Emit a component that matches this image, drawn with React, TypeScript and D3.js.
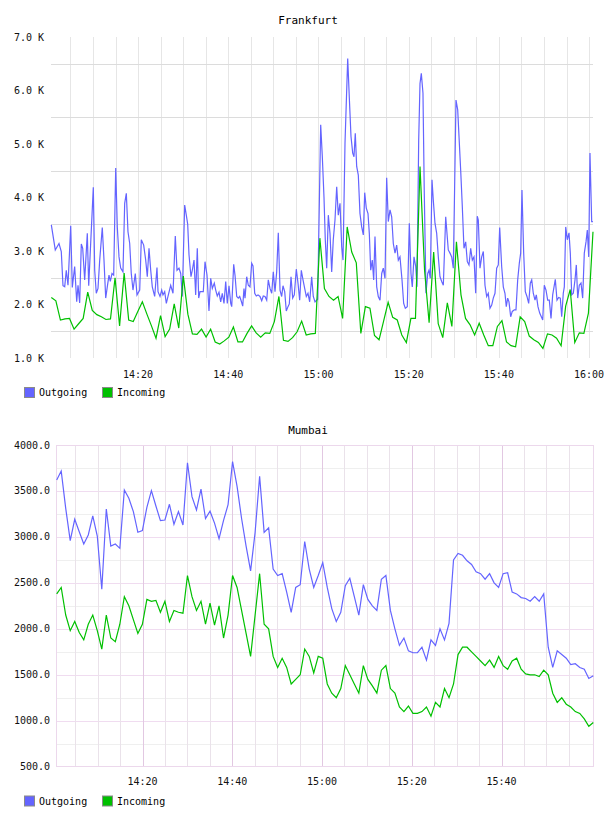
import React from "react";
import * as d3 from "d3";

// ---------- Frankfurt data ----------
// Outgoing: sample minute (after 14:00) and value in K
const fraOutMinutes = [
  0.76,1.64,2.46,2.97,3.35,3.73,4.08,4.46,5.06,5.41,5.94,6.39,6.68,7.05,7.41,7.72,8.16,8.74,9.05,10.07,
  10.38,10.73,11.11,11.49,12.06,12.44,12.82,13.17,13.55,13.84,14.22,14.59,15.04,15.39,15.77,16.14,16.65,17.03,17.39,17.76,
  18.14,18.49,18.87,19.38,19.76,20.36,20.71,21.24,21.69,22.04,22.42,22.80,23.15,23.68,24.19,24.42,24.86,25.24,25.52,25.90,
  26.26,26.63,27.23,27.74,28.25,28.63,29.07,29.45,29.80,30.33,30.69,31.00,31.29,31.73,32.02,32.40,32.77,33.13,33.44,33.73,
  34.46,34.84,35.28,35.72,36.10,36.46,36.90,37.21,37.56,37.94,38.32,38.67,39.05,39.43,39.78,40.16,40.54,40.76,41.20,41.49,
  41.87,42.22,42.53,42.82,43.20,43.48,43.71,44.08,44.44,44.81,45.19,45.48,45.86,46.21,46.59,47.03,47.41,47.76,48.14,48.52,
  48.87,49.25,49.63,49.98,50.36,50.73,51.09,51.47,51.84,52.13,52.51,52.86,53.24,53.53,53.91,54.28,54.64,55.08,55.46,55.83,
  56.19,56.57,56.94,57.30,57.67,58.05,58.49,58.85,59.23,59.82,60.49,60.85,61.22,61.51,61.82,62.18,62.55,62.93,63.28,63.66,
  64.04,64.39,64.77,65.15,65.44,65.88,66.48,66.83,67.21,67.59,67.87,68.16,68.47,68.83,69.20,69.58,69.94,70.25,70.60,70.98,
  71.27,71.58,71.93,72.24,72.53,72.91,73.26,73.64,74.02,74.37,74.75,75.12,75.48,75.86,76.23,76.59,76.97,77.34,77.70,78.07,
  78.52,78.89,79.25,79.69,80.14,80.51,80.80,81.18,81.56,81.84,82.22,82.51,82.80,83.17,83.46,83.84,84.22,84.50,84.79,85.17,
  85.46,85.83,86.21,86.57,86.94,87.32,87.68,88.21,88.78,89.16,89.54,89.89,90.11,90.49,90.87,91.16,91.53,91.89,92.26,92.64,
  93.00,93.37,93.75,94.11,94.48,94.86,95.21,95.44,95.81,96.19,96.55,96.92,97.30,97.65,98.03,98.41,98.76,99.14,99.51,99.87,
  100.18,100.62,100.98,101.35,101.64,101.95,102.24,102.62,102.97,103.42,103.79,104.17,104.53,104.83,105.12,105.50,105.86,106.23,106.61,106.97,
  107.28,107.63,108.01,108.30,108.67,109.05,109.41,109.72,110.07,110.45,110.82,111.18,111.56,111.93,112.51,112.89,113.26,113.62,113.93,114.28,
  114.51,114.82,115.17,115.55,115.84,116.15,116.50,116.88,117.17,117.48,117.83,118.21,118.58,118.94,119.32,119.61,119.92,120.20,120.58,120.85
];
const fraOutValues = [
  3.49,3.02,3.14,2.99,2.35,2.33,2.64,2.36,3.47,2.32,2.71,2.05,2.36,2.03,3.13,3.05,2.46,3.33,2.35,4.19,
  2.64,2.21,2.30,2.83,3.44,2.83,2.12,2.33,2.55,2.43,2.58,2.55,4.55,3.45,2.89,2.68,2.61,3.89,4.08,3.36,
  3.14,2.58,2.27,2.58,2.18,2.27,3.21,3.11,2.83,2.52,3.05,2.64,2.33,2.15,2.69,2.24,2.15,2.27,2.18,2.24,
  2.02,2.15,2.36,2.21,3.28,2.64,2.68,2.58,2.15,3.86,3.67,3.50,2.93,2.52,2.64,2.83,2.18,3.05,2.12,2.24,
  2.24,2.80,2.55,1.88,2.49,2.30,2.40,2.27,2.16,2.23,2.05,2.21,2.02,2.43,2.02,2.35,2.02,1.96,2.75,2.55,
  2.15,2.12,2.15,2.08,1.97,2.30,2.12,2.52,2.36,2.33,2.77,2.72,2.21,2.16,2.18,2.15,2.07,2.16,2.15,2.08,
  2.46,2.30,2.21,2.61,2.24,2.61,3.34,2.27,2.15,2.35,2.24,1.88,1.96,2.01,2.52,2.12,2.18,2.66,2.40,2.08,
  2.64,2.46,2.30,2.15,2.21,2.05,2.52,2.15,2.05,2.10,5.36,4.76,4.01,3.21,2.68,3.67,3.33,2.61,3.21,3.58,
  4.20,3.67,3.89,3.08,2.83,5.01,6.60,5.88,5.14,4.83,4.76,5.20,4.58,4.42,3.70,3.45,3.30,4.09,3.80,3.70,
  3.33,2.64,2.83,2.46,3.27,2.33,2.15,2.08,2.58,2.68,2.49,4.37,3.55,3.77,3.64,3.14,2.96,3.11,2.83,2.89,
  2.46,2.02,1.93,1.96,3.52,2.58,2.33,2.89,2.71,2.33,5.07,6.13,6.32,5.95,4.08,2.21,2.58,2.64,2.49,4.33,
  3.95,3.52,3.33,2.89,2.52,2.43,2.36,3.64,3.02,2.96,2.89,2.68,3.77,5.82,5.64,5.14,4.51,3.83,3.05,3.17,
  2.80,2.74,3.05,2.83,2.89,2.21,3.65,3.58,2.68,2.89,2.99,2.36,2.15,2.21,1.93,1.99,2.12,2.21,2.68,2.74,
  3.44,2.71,2.33,2.21,1.96,2.12,2.05,1.77,1.87,1.90,1.90,2.46,2.77,2.96,4.14,2.96,2.24,2.15,2.02,2.40,
  2.46,2.21,2.08,2.18,1.96,1.84,1.77,1.71,2.36,2.27,2.08,2.08,1.74,2.18,2.47,2.08,2.13,2.12,1.77,2.21,
  2.33,3.45,3.21,3.34,2.96,2.18,2.21,2.46,2.74,2.12,2.36,2.40,2.12,2.96,3.17,3.39,2.89,4.83,3.55,3.55
];
// Incoming: one sample per step, value in K
const fraInStartMinute = 0.76;
const fraInStepMinutes = 1.0093;
const fraInValues = [
  2.13,2.07,1.71,1.73,1.74,1.54,1.64,1.74,2.23,1.89,
  1.81,1.77,1.72,1.73,2.50,1.60,2.59,1.71,1.68,1.87,
  2.05,1.82,1.60,1.37,1.79,1.40,1.54,2.01,1.56,2.53,
  1.82,1.45,1.44,1.54,1.39,1.54,1.30,1.26,1.32,1.39,
  1.58,1.30,1.30,1.46,1.60,1.47,1.39,1.47,1.46,1.68,
  2.15,1.33,1.31,1.38,1.49,1.69,1.43,1.45,1.46,3.24,
  2.30,2.15,2.08,2.15,1.74,3.45,2.98,2.78,1.46,1.96,
  1.93,1.42,1.34,1.69,2.04,1.76,1.71,1.43,1.29,1.74,
  1.74,4.58,2.64,1.66,2.98,1.64,1.38,2.03,1.59,3.17,
  2.18,1.74,1.62,1.43,1.65,1.43,1.23,1.23,1.59,1.70,
  1.30,1.23,1.21,1.77,1.68,1.41,1.34,1.29,1.18,1.45,
  1.43,1.37,1.23,1.97,2.28,1.29,1.47,1.46,1.84,3.36
];
const fraYTicks = [1000, 2000, 3000, 4000, 5000, 6000, 7000];

// ---------- Mumbai data ----------
const mumStartMinute = 0.87;
const mumStepMinutes = 1.0049;
const mumOutValues = [
  3619,3717,3311,2959,3192,3057,2923,3021,3228,3010,
  2430,3304,2901,2923,2876,3510,3420,3275,3050,3068,
  3322,3503,3336,3177,3184,3355,3137,3275,3130,3807,
  3438,3293,3520,3200,3280,3150,2980,3180,3350,3820,
  3550,3200,2900,2630,3050,3660,3050,3100,2650,2580,
  2600,2400,2180,2450,2480,2950,2650,2450,2580,2720,
  2450,2220,2080,2180,2470,2550,2350,2150,2480,2320,
  2250,2200,2540,2580,2200,2000,1820,1900,1760,1740,
  1740,1800,1660,1880,1820,2000,1880,2060,2750,2820,
  2800,2740,2700,2620,2600,2540,2600,2500,2450,2600,
  2610,2400,2380,2340,2330,2300,2350,2300,2380,1800,
  1580,1760,1720,1680,1610,1620,1580,1560,1460,1490
];
const mumInValues = [
  2380,2450,2150,1980,2080,1960,1880,2050,2150,1980,
  1780,2150,1900,1860,2050,2350,2250,2100,1950,2050,
  2320,2300,2310,2180,2300,2080,2200,2180,2170,2580,
  2350,2200,2300,2050,2280,2040,2250,1900,2150,2580,
  2450,2200,1950,1700,2150,2600,2050,2000,1700,1580,
  1680,1580,1400,1450,1500,1780,1700,1520,1700,1680,
  1400,1300,1250,1350,1600,1500,1400,1300,1600,1450,
  1380,1300,1550,1600,1350,1300,1150,1100,1160,1080,
  1080,1100,1150,1050,1200,1150,1350,1250,1400,1720,
  1800,1800,1750,1700,1650,1600,1660,1580,1700,1600,
  1560,1650,1680,1560,1510,1500,1500,1480,1550,1500,
  1300,1200,1250,1180,1150,1100,1080,1020,940,980
];
const mumYTicks = [500, 1000, 1500, 2000, 2500, 3000, 3500, 4000];

const seriesNames = ["Outgoing", "Incoming"];
const seriesColors = ["#6464ff", "#00c000"];

const BASE = new Date(2024, 0, 1, 14, 0, 0).getTime();
const at = (m: number) => new Date(BASE + m * 60000);
const FONT = "'DejaVu Sans Mono', monospace";
const fmtTime = d3.timeFormat("%H:%M");

type Pt = { t: Date; v: number };

function Legend({ y }: { y: number }) {
  const xs = [24, 102];
  return (
    <g>
      {seriesNames.map((n, i) => (
        <g key={n}>
          <rect x={xs[i] + 0.5} y={y + 0.5} width={10} height={10} fill={seriesColors[i]} stroke="#8a8a8a" />
          <text x={xs[i] + 15} y={y + 9} fontFamily={FONT} fontSize={10} fill="#000">{n}</text>
        </g>
      ))}
    </g>
  );
}

function Frankfurt() {
  const x = d3.scaleTime().domain([at(0.69), at(120.87)]).range([51, 593]);
  const y = d3.scaleLinear().domain([1000, 7000]).range([358, 37]);
  const out: Pt[] = fraOutMinutes.map((m, i) => ({ t: at(m), v: fraOutValues[i] * 1000 }));
  const inc: Pt[] = fraInValues.map((v, i) => ({ t: at(fraInStartMinute + i * fraInStepMinutes), v: v * 1000 }));
  const line = d3.line<Pt>().x((d) => x(d.t)).y((d) => y(d.v));
  const vgrid = d3.timeMinute.every(5)!.range(at(0.69), at(120.87));
  const labels = d3.timeMinute.every(20)!.range(at(10), at(121));
  const hgrid = d3.range(1500, 7000, 1000);
  return (
    <g>
      <text x={308} y={24} textAnchor="middle" fontFamily={FONT} fontSize={11}>Frankfurt</text>
      {vgrid.map((d, i) => (
        <line key={"v" + i} x1={Math.round(x(d)) + 0.5} x2={Math.round(x(d)) + 0.5} y1={37} y2={358} stroke="#e6e6e6" />
      ))}
      {hgrid.map((v) => (
        <line key={"h" + v} x1={51} x2={593} y1={Math.round(y(v)) + 0.5} y2={Math.round(y(v)) + 0.5} stroke="#dcdcdc" />
      ))}
      {fraYTicks.map((v) => (
        <text key={"yl" + v} x={44} y={y(v) + 3.5} textAnchor="end" fontFamily={FONT} fontSize={10} fill="#111">
          {(v / 1000).toFixed(1) + " K"}
        </text>
      ))}
      {labels.map((d, i) => (
        <text key={"xl" + i} x={x(d)} y={378} textAnchor="middle" fontFamily={FONT} fontSize={10} fill="#111">
          {fmtTime(d)}
        </text>
      ))}
      <path d={line(out) || ""} fill="none" stroke={seriesColors[0]} strokeWidth={1.2} />
      <path d={line(inc) || ""} fill="none" stroke={seriesColors[1]} strokeWidth={1.2} />
      <Legend y={387} />
    </g>
  );
}

function Mumbai() {
  const x = d3.scaleTime().domain([at(0.87), at(120.45)]).range([56.7, 593.3]);
  const y = d3.scaleLinear().domain([500, 4000]).range([766.7, 445]);
  const out: Pt[] = mumOutValues.map((v, i) => ({ t: at(mumStartMinute + i * mumStepMinutes), v }));
  const inc: Pt[] = mumInValues.map((v, i) => ({ t: at(mumStartMinute + i * mumStepMinutes), v }));
  const line = d3.line<Pt>().x((d) => x(d.t)).y((d) => y(d.v));
  const vgrid = d3.timeMinute.every(5)!.range(at(1), at(119));
  const labels = d3.timeMinute.every(20)!.range(at(10), at(110));
  const hgrid = d3.range(750, 4000, 250);
  const x0 = 56.5, x1 = 593.5, y0 = 445.5, y1 = 766.5;
  return (
    <g>
      <text x={308} y={434} textAnchor="middle" fontFamily={FONT} fontSize={11}>Mumbai</text>
      {hgrid.map((v) => (
        <line key={"h" + v} x1={x0} x2={x1} y1={Math.round(y(v)) + 0.5} y2={Math.round(y(v)) + 0.5}
          stroke={v % 500 === 0 ? "#f0dcf0" : "#efefef"} />
      ))}
      {vgrid.map((d, i) => {
        const major = d.getMinutes() % 20 === 0;
        return (
          <line key={"v" + i} x1={Math.round(x(d)) + 0.5} x2={Math.round(x(d)) + 0.5} y1={y0} y2={y1}
            stroke={major ? "#e2c8e2" : "#eae2ea"} />
        );
      })}
      <rect x={x0} y={y0} width={x1 - x0} height={y1 - y0} fill="none" stroke="#ecd8ec" />
      {mumYTicks.map((v) => (
        <text key={"yl" + v} x={50} y={y(v) + 3.5} textAnchor="end" fontFamily={FONT} fontSize={10} fill="#111">
          {v.toFixed(1)}
        </text>
      ))}
      {labels.map((d, i) => (
        <text key={"xl" + i} x={x(d)} y={785} textAnchor="middle" fontFamily={FONT} fontSize={10} fill="#111">
          {fmtTime(d)}
        </text>
      ))}
      <path d={line(out) || ""} fill="none" stroke={seriesColors[0]} strokeWidth={1.2} />
      <path d={line(inc) || ""} fill="none" stroke={seriesColors[1]} strokeWidth={1.2} />
      <Legend y={795.5} />
    </g>
  );
}

export default function App() {
  return (
    <svg width={608} height={816} style={{ position: "absolute", left: 0, top: 0, background: "#fff" }}>
      <rect width={608} height={816} fill="#fff" />
      <Frankfurt />
      <Mumbai />
    </svg>
  );
}
